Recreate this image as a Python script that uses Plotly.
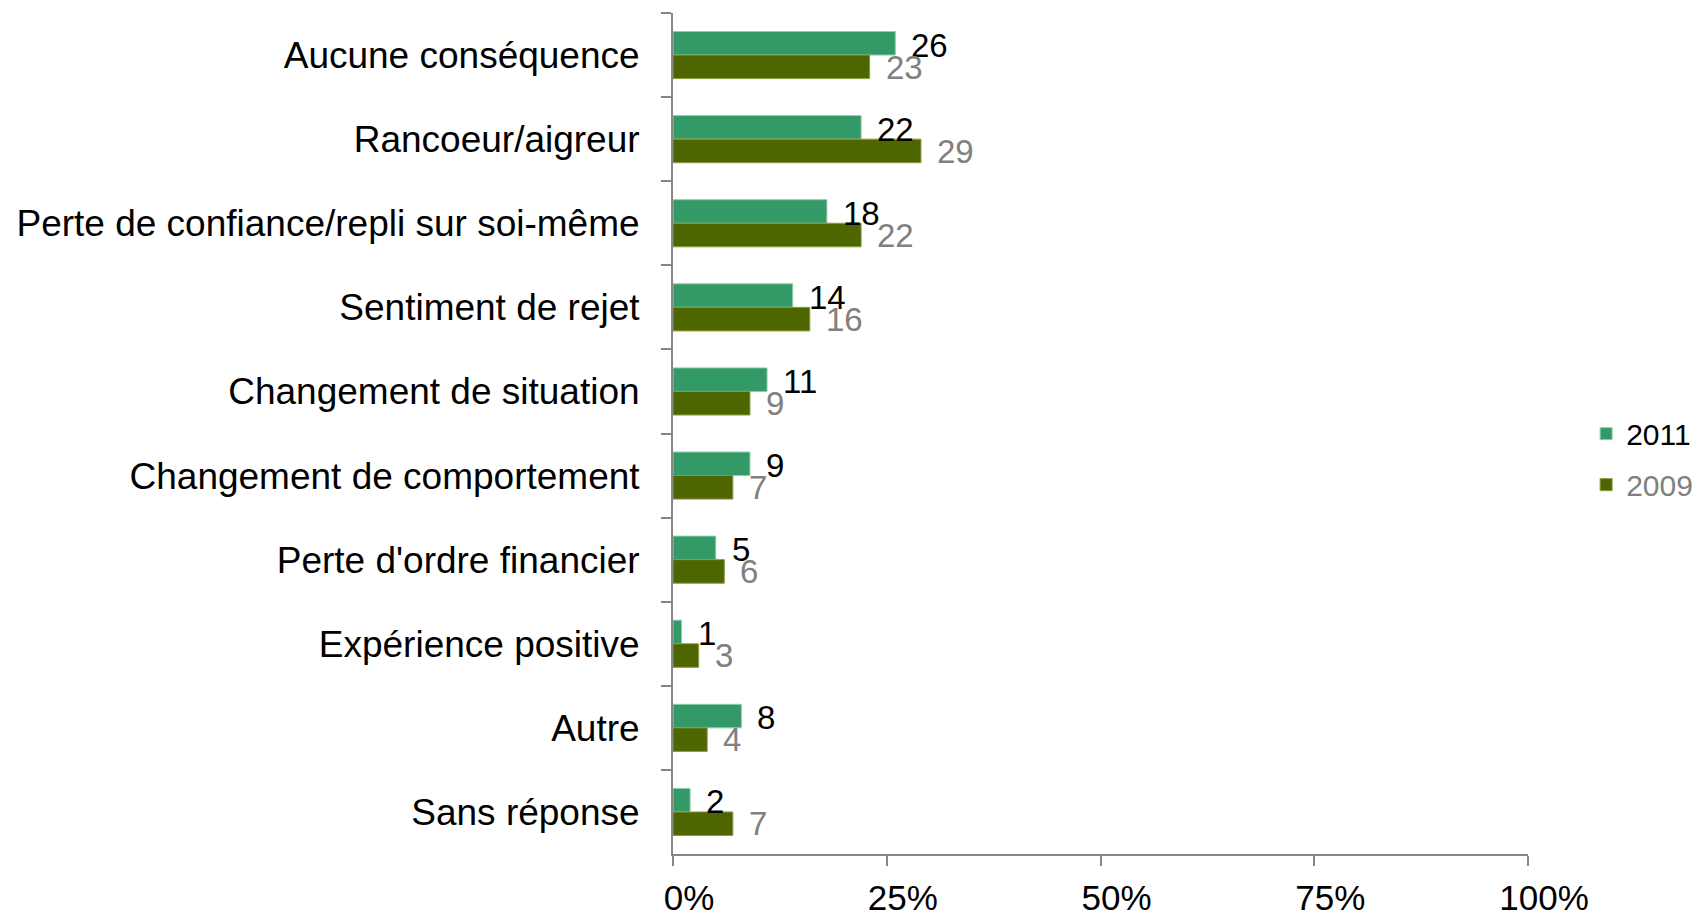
import plotly.graph_objects as go

categories = [
    "Aucune conséquence",
    "Rancoeur/aigreur",
    "Perte de confiance/repli sur soi-même",
    "Sentiment de rejet",
    "Changement de situation",
    "Changement de comportement",
    "Perte d'ordre financier",
    "Expérience positive",
    "Autre",
    "Sans réponse",
]
values_2011 = [26, 22, 18, 14, 11, 9, 5, 1, 8, 2]
values_2009 = [23, 29, 22, 16, 9, 7, 6, 3, 4, 7]
x_tickvals = [0, 25, 50, 75, 100]
x_ticktext = ["0%", "25%", "50%", "75%", "100%"]

COL_2011 = "#339966"
COL_2009 = "#4D6600"
FONT = "Liberation Sans, Arial, sans-serif"

fig = go.Figure()
fig.add_trace(go.Bar(
    y=categories, x=values_2011, orientation="h", name="2011",
    marker=dict(color=COL_2011, line=dict(color="#8fcfae", width=1)),
    legendgroup="a", hoverinfo="skip",
))
fig.add_trace(go.Bar(
    y=categories, x=values_2009, orientation="h",
    name="<span style='color:#808080'>2009</span>",
    marker=dict(color=COL_2009, line=dict(color="#8a9a40", width=1)),
    legendgroup="b", hoverinfo="skip",
))

annotations = []
for cat, v in zip(categories, values_2011):
    annotations.append(dict(x=v, y=cat, xref="x", yref="y", text=str(v),
                            showarrow=False, xanchor="left", yanchor="middle",
                            xshift=14, yshift=10,
                            font=dict(family=FONT, size=33, color="#000000")))
for cat, v in zip(categories, values_2009):
    annotations.append(dict(x=v, y=cat, xref="x", yref="y", text=str(v),
                            showarrow=False, xanchor="left", yanchor="middle",
                            xshift=14, yshift=-12,
                            font=dict(family=FONT, size=33, color="#808080")))

fig.update_layout(
    width=1692, height=906,
    margin=dict(l=665, r=172, t=5, b=60, autoexpand=False),
    paper_bgcolor="white", plot_bgcolor="white",
    barmode="group", bargap=0.44, bargroupgap=0,
    font=dict(family=FONT, size=30, color="#000000"),
    showlegend=True,
    legend=dict(x=1.068, y=0.4695, xanchor="left", yanchor="middle",
                font=dict(family=FONT, size=30, color="#000000"),
                traceorder="grouped", tracegroupgap=9,
                bgcolor="rgba(0,0,0,0)"),
    annotations=annotations,
)
fig.update_yaxes(
    type="category", autorange="reversed",
    showline=True, linecolor="#868686", linewidth=2,
    ticks="outside", tickson="boundaries", ticklen=10, tickwidth=2, tickcolor="#868686",
    showgrid=False, zeroline=False,
    tickfont=dict(family=FONT, size=37, color="#000000"),
    ticklabelstandoff=24,
)
fig.update_xaxes(
    range=[0, 100], tickvals=x_tickvals, ticktext=x_ticktext,
    showline=True, linecolor="#868686", linewidth=2,
    ticks="outside", ticklen=10, tickwidth=2, tickcolor="#868686",
    showgrid=False, zeroline=False,
    tickfont=dict(family=FONT, size=35, color="#000000"),
    ticklabelstandoff=2, ticklabelshift=16,
)

fig.write_html("out.html")
